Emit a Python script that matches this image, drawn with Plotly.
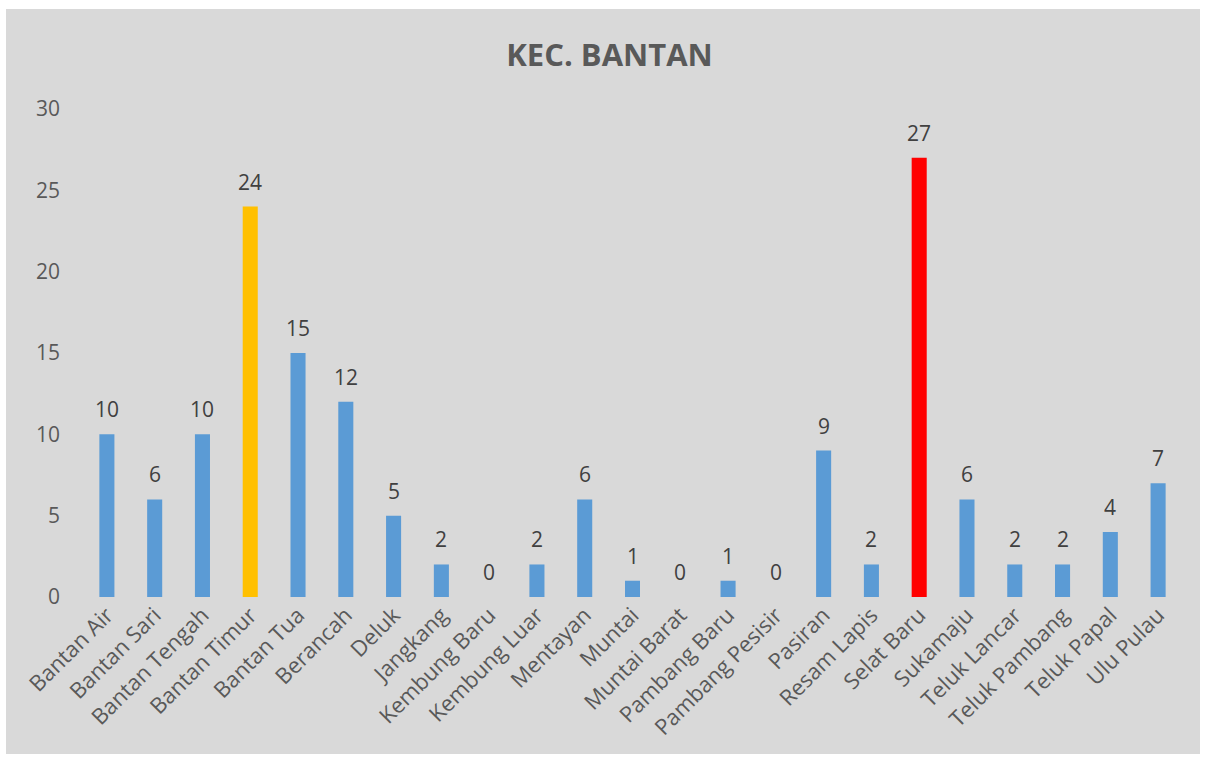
import plotly.graph_objects as go

categories = ["Bantan Air", "Bantan Sari", "Bantan Tengah", "Bantan Timur", "Bantan Tua",
              "Berancah", "Deluk", "Jangkang", "Kembung Baru", "Kembung Luar", "Mentayan",
              "Muntai", "Muntai Barat", "Pambang Baru", "Pambang Pesisir", "Pasiran",
              "Resam Lapis", "Selat Baru", "Sukamaju", "Teluk Lancar", "Teluk Pambang",
              "Teluk Papal", "Ulu Pulau"]
values = [10, 6, 10, 24, 15, 12, 5, 2, 0, 2, 6, 1, 0, 1, 0, 9, 2, 27, 6, 2, 2, 4, 7]
highlight = {"Bantan Timur": "#FFC000", "Selat Baru": "#FF0000"}
base_color = "#5B9BD5"
colors = [highlight.get(c, base_color) for c in categories]

W, H = 1209, 758
ml, mr, mt, mb = 83, 27, 109, 161
FONT = "Open Sans"

fig = go.Figure(go.Bar(
    x=categories, y=values, marker=dict(color=colors, line=dict(width=0)),
    hoverinfo="x+y",
))

for c, v in zip(categories, values):
    fig.add_annotation(x=c, y=v, text=str(v), showarrow=False, xref="x", yref="y",
                       yanchor="bottom", yshift=9,
                       font=dict(family=FONT, size=21, color="#404040"))

pw = W - ml - mr
ph = H - mt - mb
def px_to_paper_x(px):
    return (px - ml) / pw
def px_to_paper_y(py):
    return (H - mb - py) / ph

fig.add_shape(type="rect", xref="paper", yref="paper", layer="below",
              x0=px_to_paper_x(6), x1=px_to_paper_x(1200),
              y0=px_to_paper_y(754), y1=px_to_paper_y(9),
              fillcolor="#D9D9D9", line=dict(width=0))

fig.update_layout(
    width=W, height=H,
    margin=dict(l=ml, r=mr, t=mt, b=mb, autoexpand=False),
    paper_bgcolor="white", plot_bgcolor="rgba(0,0,0,0)",
    bargap=0.685, showlegend=False,
    title=dict(text="<b>KEC. BANTAN</b>", x=609.5 / W, xref="container", xanchor="center",
               y=1 - 55 / H, yref="container", yanchor="middle",
               font=dict(family=FONT, size=31, color="#595959")),
    font=dict(family=FONT, color="#595959"),
)
fig.update_yaxes(range=[0, 30], tickvals=[0, 5, 10, 15, 20, 25, 30], showgrid=False,
                 zeroline=False, showline=False, ticks="", ticklabelstandoff=22,
                 tickfont=dict(size=21, color="#595959"))
fig.update_xaxes(tickangle=-45, showgrid=False, showline=False, ticks="",
                 tickfont=dict(size=22, color="#595959"))

fig.write_html("out.html", config={"displayModeBar": False},
               post_script="document.body.style.margin='0';")
